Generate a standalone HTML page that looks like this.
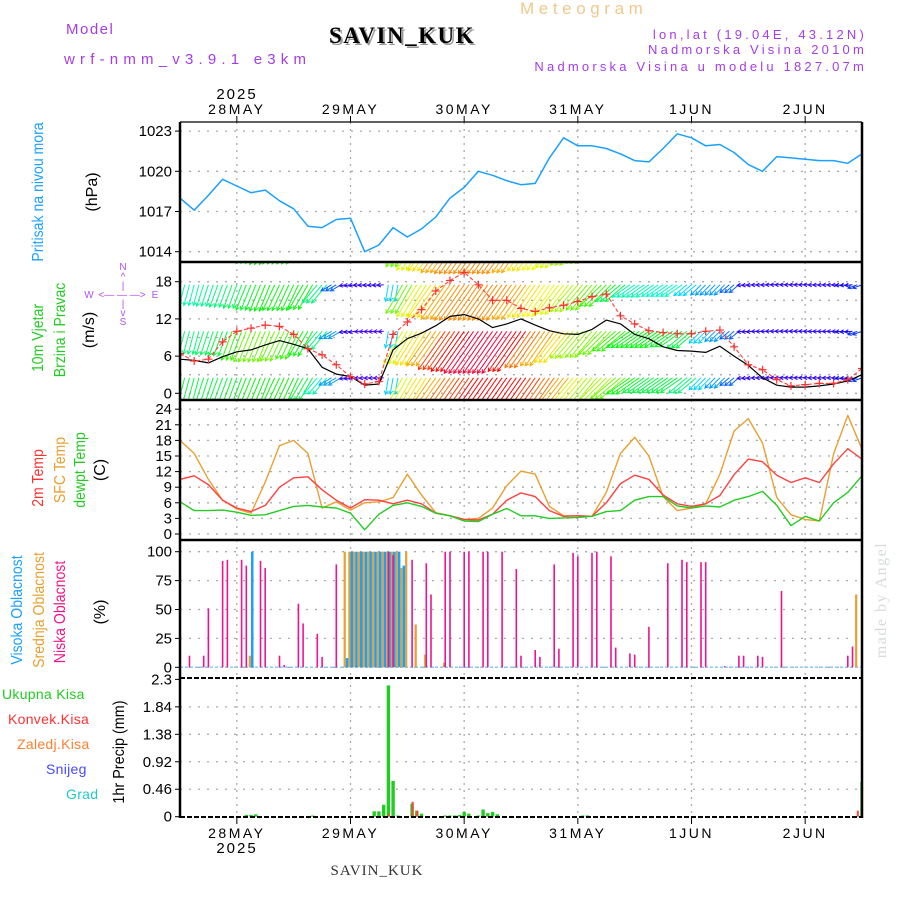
<!DOCTYPE html>
<html><head><meta charset="utf-8"><style>
html,body{margin:0;padding:0;background:#fff;}
svg{display:block;}
text{font-family:"Liberation Sans",sans-serif;}
.serif{font-family:"Liberation Serif",serif;}
</style></head><body>
<svg id="chart" width="900" height="900" viewBox="0 0 900 900" xmlns="http://www.w3.org/2000/svg">
<defs>
<clipPath id="clipP1"><rect x="180" y="122" width="682" height="140"/></clipPath>
<clipPath id="clipP2"><rect x="180" y="262" width="682" height="138"/></clipPath>
<clipPath id="clipP3"><rect x="180" y="400" width="682" height="140"/></clipPath>
<clipPath id="clipP4"><rect x="180" y="540" width="682" height="138"/></clipPath>
<clipPath id="clipP5"><rect x="180" y="678" width="682" height="140"/></clipPath>
</defs>
<g>
<text x="66" y="34" font-size="15" fill="#a33de8" letter-spacing="1.5">Model</text>
<text x="64" y="64" font-size="15" fill="#a33de8" letter-spacing="5.2">wrf-nmm_v3.9.1 e3km</text>
<text class="serif" x="331" y="45" font-size="23" font-weight="bold" fill="#999" letter-spacing="1.5">SAVIN_KUK</text>
<text class="serif" x="329" y="43" font-size="23" font-weight="bold" fill="#000" letter-spacing="1.5">SAVIN_KUK</text>
<text x="520" y="14" font-size="17" fill="#f0c88c" letter-spacing="4.6">Meteogram</text>
<text x="867" y="39" font-size="13" fill="#a33de8" letter-spacing="3.2" text-anchor="end">lon,lat (19.04E, 43.12N)</text>
<text x="867" y="54" font-size="13" fill="#a33de8" letter-spacing="3.2" text-anchor="end">Nadmorska Visina 2010m</text>
<text x="867" y="71" font-size="13" fill="#a33de8" letter-spacing="3.2" text-anchor="end">Nadmorska Visina u modelu 1827.07m</text>
<text x="237" y="99" font-size="15" fill="#000" text-anchor="middle" letter-spacing="2">2025</text>
<text x="237" y="853" font-size="15" fill="#000" text-anchor="middle" letter-spacing="2">2025</text>
<text class="serif" x="377" y="875" font-size="15" fill="#333" text-anchor="middle" letter-spacing="1">SAVIN_KUK</text>
<text class="serif" transform="translate(886,600) rotate(-90)" font-size="16" fill="#d6ddd6" text-anchor="middle" letter-spacing="1.5">made by Angel</text>
</g>
<g font-size="16">
<text transform="translate(43,192) rotate(-90) scale(0.88,1)" fill="#1aa0ff" text-anchor="middle">Pritisak na nivou mora</text>
<text transform="translate(97,192) rotate(-90)" fill="#000" text-anchor="middle">(hPa)</text>
<text transform="translate(43,338) rotate(-90) scale(0.88,1)" fill="#22cc22" text-anchor="middle">10m Vjetar</text>
<text transform="translate(65,330) rotate(-90) scale(0.88,1)" fill="#22cc22" text-anchor="middle">Brzina i Pravac</text>
<text transform="translate(94,330) rotate(-90)" fill="#000" text-anchor="middle">(m/s)</text>
<g fill="#b050f0" font-size="10" text-anchor="middle">
<text x="123" y="270">N</text>
<text x="123" y="280">^</text>
<text x="123" y="289">|</text>
<text x="122" y="298">&lt;— — —&gt;</text>
<text x="123" y="307">|</text>
<text x="123" y="316">v</text>
<text x="123" y="325">S</text>
<text x="89" y="298">W</text><text x="155" y="298">E</text>
</g>
<text transform="translate(43,478) rotate(-90) scale(0.88,1)" fill="#ff3030" text-anchor="middle">2m Temp</text>
<text transform="translate(65,470) rotate(-90) scale(0.88,1)" fill="#e8a030" text-anchor="middle">SFC Temp</text>
<text transform="translate(85,470) rotate(-90) scale(0.88,1)" fill="#22cc22" text-anchor="middle">dewpt Temp</text>
<text transform="translate(105,470) rotate(-90)" fill="#000" text-anchor="middle">(C)</text>
<text transform="translate(22,610) rotate(-90) scale(0.88,1)" fill="#1aa0ff" text-anchor="middle">Visoka Oblacnost</text>
<text transform="translate(44,610) rotate(-90) scale(0.88,1)" fill="#e8a030" text-anchor="middle">Srednja Oblacnost</text>
<text transform="translate(65,612) rotate(-90) scale(0.88,1)" fill="#f0148c" text-anchor="middle">Niska Oblacnost</text>
<text transform="translate(105,612) rotate(-90)" fill="#000" text-anchor="middle">(%)</text>
<text transform="translate(124,752) rotate(-90) scale(0.9,1)" fill="#000" text-anchor="middle">1hr Precip (mm)</text>
<g font-size="14">
<text x="2" y="699" fill="#22cc22" letter-spacing="0.3">Ukupna Kisa</text>
<text x="8" y="724" fill="#ff3030" letter-spacing="0.3">Konvek.Kisa</text>
<text x="17" y="749" fill="#ff7f30" letter-spacing="0.3">Zaledj.Kisa</text>
<text x="46" y="774" fill="#4848ff" letter-spacing="0.3">Snijeg</text>
<text x="66" y="799" fill="#20c8c8" letter-spacing="0.3">Grad</text>
</g>
</g>
<g id="plot"></g>
</svg>
<script>
const hours3 = [0,3,6,9,12,15,18,21,24,27,30,33,36,39,42,45,48,51,54,57,60,63,66,69,72,75,78,81,84,87,90,93,96,99,102,105,108,111,114,117,120,123,126,129,132,135,138,141,144];
const pressure = [1018.0,1017.1,1018.2,1019.4,1018.9,1018.4,1018.6,1017.8,1017.2,1015.9,1015.8,1016.4,1016.5,1014.0,1014.5,1015.8,1015.1,1015.7,1016.6,1018.0,1018.8,1020.0,1019.7,1019.3,1019.0,1019.1,1021.0,1022.5,1021.9,1021.9,1021.7,1021.3,1020.8,1020.7,1021.7,1022.8,1022.5,1021.9,1022.0,1021.4,1020.5,1020.0,1021.1,1021.0,1020.9,1020.8,1020.8,1020.6,1021.3];
const windSpeed = [5.5,5.3,4.9,5.9,6.7,7.0,7.8,8.5,7.9,7.2,4.2,3.1,2.7,1.3,1.5,7.0,8.8,9.7,10.9,12.4,12.7,12.0,10.6,11.2,12.0,11.0,10.1,9.6,9.5,10.3,11.8,11.2,9.5,8.8,7.5,6.9,6.8,6.6,7.6,6.0,4.5,2.5,1.3,1.0,1.0,1.2,1.5,2.0,3.0];
const windGust = [6.4,5.2,5.5,8.3,10.0,10.5,11.0,10.8,9.5,7.2,6.2,4.6,2.7,1.5,1.9,9.5,11.5,13.5,16.5,18.2,19.5,17.5,15.0,15.0,13.7,13.2,13.8,14.2,14.8,15.6,16.0,12.5,11.2,10.1,9.8,9.6,9.6,10.0,10.2,7.5,4.6,3.8,2.2,1.2,1.4,1.6,1.6,2.2,4.0];
const windDir = [15,15,18,20,20,22,22,25,25,30,40,60,80,85,85,10,30,32,35,35,35,35,35,35,35,35,35,38,40,40,45,50,55,55,55,55,50,45,45,50,85,88,90,90,90,88,88,85,70];
const upperSpeed = [8,8,8.5,9,9.5,10.5,11,11,11,11,9,4,1.5,1.5,1.5,6,13,15,16,17,17.5,17.5,17.5,17.5,17,16,15.5,15,14,13,12,10,8,8,7.5,7.5,6,5,5,4,1.5,1.5,1.5,1.5,1.5,1.5,1.5,2,3];
const midSpeed = [9,9,9.5,10,12,13,13,13,12,11,9,5,1.5,1,1,6,15,16,17,19,20,21,21,21,20,18,17,16,14,13.5,13,12,11,11,11,10.5,10,6,5,4,1.5,1.5,1.5,1.5,1.5,1.5,1.5,2,3];
const lowSpeed = [10,10,10,10,10.5,11,11,11,11,10,8,5,1.5,1,1,6,15,16,17,18,19,20,20,20,20,19,18,17,15,14,14,13,11,10,10,10,9,6,5,4,1.5,1.5,1.5,1.5,1.5,1.5,1.5,2,3];
const temp2m = [10.5,11.2,9.5,6.5,5.0,4.3,5.5,9.0,10.8,11.0,8.5,6.5,5.0,6.6,6.5,5.8,6.5,5.8,4.0,3.5,2.8,2.7,3.8,6.5,7.9,7.2,4.5,3.4,3.5,3.4,6.0,9.7,11.3,10.5,7.5,5.8,5.3,5.8,7.4,11.4,14.4,13.9,11.3,9.9,10.8,9.9,13.5,16.4,14.4];
const tempSfc = [18.0,15.5,10.5,6.5,4.8,4.0,10.0,17.0,18.0,15.5,5.0,6.2,4.6,6.0,6.2,7.0,11.5,7.5,4.1,3.5,2.8,3.0,5.0,9.3,12.1,11.5,5.3,3.5,3.5,3.4,8.0,15.5,18.6,15.0,7.2,4.5,5.0,5.8,11.5,19.8,22.2,17.5,7.0,3.7,2.8,2.5,15.4,22.8,16.3];
const tempDew = [6.2,4.5,4.5,4.6,4.2,3.6,3.7,4.5,5.3,5.5,5.2,5.0,4.0,0.8,3.8,5.5,6.0,5.3,4.0,3.5,2.5,2.4,3.8,4.9,3.5,3.5,3.0,3.1,3.2,3.4,4.3,4.5,6.5,7.2,7.2,5.4,5.0,5.4,5.2,6.5,7.2,8.2,5.5,1.6,3.4,2.5,6.0,8.0,11.2];
const lowCloudHours = [2,5,6,9,10,13,14,17,18,21,22,25,26,29,30,33,44,45,49,52,53,56,57,60,61,64,65,68,71,72,75,76,79,80,83,84,87,88,91,92,95,96,99,103,106,107,110,111,115,118,119,122,123,127,141,142];
const lowCloud = [10,10,51,92,93,93,88,92,86,10,2,55,38,29,9,89,100,97,93,90,63,100,100,100,100,100,100,100,85,10,15,9,89,16,99,96,99,100,96,17,12,11,35,90,93,91,91,91,1,10,10,10,9,66,10,18];
const midCloudHours = [15,35,36,37,38,39,40,41,42,43,44,45,46,47,48,50,52,56,143];
const midCloud = [10,100,100,100,100,100,100,100,100,100,100,100,100,86,100,37,11,4,63];
const highCloudHours = [15,35,36,37,38,39,40,41,42,43,44,45,46,47,144];
const highCloud = [100,8,100,100,100,100,100,100,100,100,100,100,100,88,70];
const totalPrecipHours = [14,15,16,28,41,42,43,44,45,46,49,50,51,56,57,58,59,60,61,63,64,65,66,67,85,86,144];
const totalPrecip = [0.03,0.03,0.04,0.02,0.09,0.09,0.2,2.2,0.6,0.02,0.22,0.1,0.05,0.02,0.02,0.02,0.03,0.08,0.05,0.02,0.12,0.06,0.08,0.04,0.02,0.02,0.58];
const convPrecipHours = [44,49,50,143,144];
const convPrecip = [0.05,0.25,0.1,0.1,0.58];
const dayLabels = ["28MAY","29MAY","30MAY","31MAY","1JUN","2JUN"];
const dayHours = [12,36,60,84,108,132];
const pressureTicks = [1014,1017,1020,1023];
const windTicks = [0,6,12,18];
const tempTicks = [0,3,6,9,12,15,18,21,24];
const cloudTicks = [0,25,50,75,100];
const precipTicks = ["0","0.46","0.92","1.38","1.84","2.3"];

const NS = "http://www.w3.org/2000/svg";
const plot = document.getElementById("plot");
const X0 = 180, X1 = 862, HMAX = 144;
function xs(h){ return X0 + h*(X1-X0)/HMAX; }
function yP(v){ return 251.7 - (v-1014)*13.4; }
function yW(v){ return 393.3 - v*6.2; }
function yT(v){ return 534 - v*5.2; }
function yC(v){ return 667.3 - v*1.156; }
function yR(v){ return 816.7 - v*59.7; }
function mk(tag, attrs, parent){
  const e = document.createElementNS(NS, tag);
  for (const k in attrs) e.setAttribute(k, attrs[k]);
  (parent||plot).appendChild(e);
  return e;
}
function grp(name, clip){
  const g = mk("g", clip ? {"clip-path":"url(#"+clip+")"} : {});
  
  
  return g;
}
const panels = [[122,262],[262,400],[400,540],[540,678],[678,818]];
const grid = grp("grid-lines");
dayHours.forEach(h=>{
  panels.forEach(p=>{
    const l = mk("line",{x1:xs(h),x2:xs(h),y1:p[0],y2:p[1],stroke:"#aaa","stroke-width":1.3,"stroke-dasharray":"2,5"},grid);
    
    
  });
});
function hgrid(ys){
  ys.forEach(y=>{
    const l = mk("line",{x1:X0,x2:X1,y1:y,y2:y,stroke:"#aaa","stroke-width":1.3,"stroke-dasharray":"2,7"},grid);
    
    
  });
}
hgrid(pressureTicks.map(yP));
hgrid(windTicks.map(yW));
hgrid([3,9,15].map(yW));
hgrid(tempTicks.map(yT));
hgrid(cloudTicks.map(yC));
hgrid(precipTicks.slice(1,5).map(v=>yR(parseFloat(v))));
const ticks = grp("y-tick-labels");
function ylabels(vals, f){
  vals.forEach(v=>{
    const y = f(parseFloat(v));
    const t = mk("text",{x:172,y:y+5,"font-size":15,"text-anchor":"end",fill:"#000"},ticks);
    t.textContent = v;
    
    
    const tk = mk("line",{x1:175,x2:180,y1:y,y2:y,stroke:"#000","stroke-width":1},ticks);
    
    
  });
}
ylabels(pressureTicks, yP);
ylabels(windTicks, yW);
ylabels(tempTicks, yT);
ylabels(cloudTicks, yC);
ylabels(precipTicks, yR);
const dl = grp("x-axis-labels");
dayLabels.forEach((d,i)=>{
  const x = xs(dayHours[i]);
  const t1 = mk("text",{x:x,y:114,"font-size":14,"text-anchor":"middle",fill:"#000","letter-spacing":2.5},dl);
  t1.textContent = d;
  
  
  const t2 = mk("text",{x:x,y:838,"font-size":14,"text-anchor":"middle",fill:"#000","letter-spacing":2.5},dl);
  t2.textContent = d;
  
  
  [[818,824],[116,122]].forEach(r=>{
    const tk = mk("line",{x1:x,x2:x,y1:r[0],y2:r[1],stroke:"#000"},dl);
    
    
  });
});
function path(vals, f, color, name, clip, w){
  const g = grp(name, clip);
  const d = vals.map((v,i)=>(i?"L":"M")+xs(hours3[i]).toFixed(1)+","+f(v).toFixed(1)).join("");
  const p = mk("path",{d:d,fill:"none",stroke:color,"stroke-width":w||1.4,"stroke-linejoin":"round"},g);
  
  
  return g;
}
path(pressure, yP, "#1aa0ff", "pressure-series", "clipP1", 1.5);
function hueFor(s){ let h = 270 - s*13.5; if (h<0) h+=360; return h; }
const arrows = grp("wind-arrows","clipP2");
const bands = [[25,upperSpeed],[17.5,upperSpeed],[10,midSpeed],[2.5,lowSpeed]];
bands.forEach((b)=>{
  const baseY = yW(b[0]);
  hours3.forEach((h,i)=>{
    [-1,0,1].forEach(o=>{
      const hh = h+o;
      if (hh<0 || hh>HMAX) return;
      const s = b[1][i];
      const L = 3 + s*2.3;
      const to = (windDir[i]+180)*Math.PI/180;
      const x0 = xs(hh), y0 = baseY;
      const dx = Math.sin(to)*L, dy = -Math.cos(to)*L;
      const x1 = x0+dx, y1 = y0+dy;
      const col = "hsl("+hueFor(s)+",95%,50%)";
      const ang = Math.atan2(dy,dx);
      const a1 = ang+Math.PI-0.5, a2 = ang+Math.PI+0.5;
      const d = "M"+x0.toFixed(1)+","+y0.toFixed(1)+"L"+x1.toFixed(1)+","+y1.toFixed(1)+
        "M"+(x1+4*Math.cos(a1)).toFixed(1)+","+(y1+4*Math.sin(a1)).toFixed(1)+"L"+x1.toFixed(1)+","+y1.toFixed(1)+
        "L"+(x1+4*Math.cos(a2)).toFixed(1)+","+(y1+4*Math.sin(a2)).toFixed(1);
      const p = mk("path",{d:d,stroke:col,"stroke-width":1,fill:"none"},arrows);
      
      
    });
  });
});
path(windSpeed, yW, "#000", "wind-speed-series", "clipP2", 1.2);
const gg = path(windGust, yW, "#ff4040", "wind-gust-series", "clipP2", 1.1);
gg.querySelector("path").setAttribute("stroke-dasharray","4,2");
windGust.forEach((v,i)=>{
  const x = xs(hours3[i]), y = yW(v);
  const p = mk("path",{d:"M"+(x-4)+","+y+"h8M"+x+","+(y-4)+"v8",stroke:"#ff3030","stroke-width":1.2},gg);
  
  
});
path(tempSfc, yT, "#e8a030", "sfc-temp-series", "clipP3", 1.4);
path(temp2m, yT, "#ff4040", "t2m-series", "clipP3", 1.4);
path(tempDew, yT, "#22cc22", "dewpt-series", "clipP3", 1.4);
const clouds = grp("cloud-bars","clipP4");
const baseLine = mk("line",{x1:X0,x2:X1,y1:yC(0),y2:yC(0),stroke:"#8cc8f0","stroke-width":1.5,"stroke-dasharray":"3,2"},clouds);


function bars(hrs, vals, f, color, w, off, name, g){
  hrs.forEach((h,i)=>{
    const y = f(vals[i]), y0 = f(0);
    const r = mk("rect",{x:(xs(h)+off).toFixed(1),y:y.toFixed(1),width:w,height:Math.max(0.5,y0-y).toFixed(1),fill:color},g);
    
    
  });
}
bars(midCloudHours, midCloud, yC, "#e8a030", 2.2, -2.2, "mid-cloud-bar", clouds);
bars(highCloudHours, highCloud, yC, "#1aa0ff", 2.5, 0, "high-cloud-bar", clouds);
bars(lowCloudHours, lowCloud, yC, "#f0148c", 1.6, -0.8, "low-cloud-bar", clouds);
const pr = grp("precip-bars","clipP5");
bars(totalPrecipHours, totalPrecip, yR, "#22cc22", 3.4, -1.7, "total-precip-bar", pr);
bars(convPrecipHours, convPrecip, yR, "#ff4040", 2, -0.5, "convective-precip-bar", pr);
const fr = grp("panel-frames");
[[X0,122,X0,818],[X1,122,X1,818]].forEach(c=>{
  const l = mk("line",{x1:c[0],y1:c[1],x2:c[2],y2:c[3],stroke:"#000","stroke-width":2.5},fr);
  
  
});
[[122,1.2,""],[262,2.5,""],[400,2.5,""],[540,2.5,""],[678,2,"5,2"],[817,2,"5,2"]].forEach(c=>{
  const l = mk("line",{x1:X0,x2:X1,y1:c[0],y2:c[0],stroke:"#000","stroke-width":c[1],"stroke-dasharray":c[2]},fr);
  
  
});
</script>
</body></html>
